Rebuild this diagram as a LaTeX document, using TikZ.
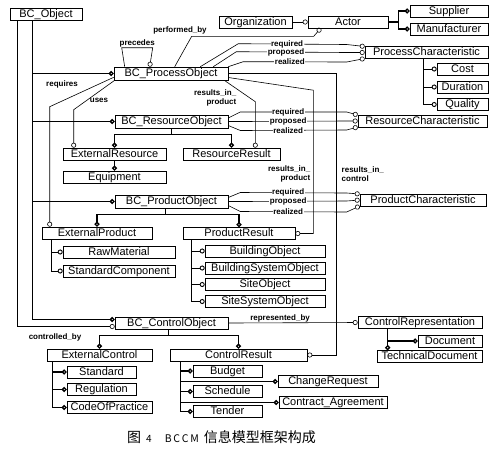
\documentclass[tikz,border=0pt]{standalone}
\usepackage{fontspec}
\setmainfont{Liberation Sans}
\newfontfamily\cjkfont{Noto Sans CJK SC}
\usetikzlibrary{arrows.meta,calc}

\begin{document}
\begin{tikzpicture}[x=1pt,y=-1pt,
    ent/.style={draw,line width=0.6pt,fill=white,inner sep=0pt,minimum height=12pt,
      text height=8pt,text depth=2pt,font=\fontsize{11}{12}\selectfont},
    rel/.style={line width=0.6pt,-{Circle[open,length=5pt,width=5pt]}},
    sub/.style={line width=1.3pt,-{Circle[open,length=5pt,width=5pt]}},
    lbl/.style={font=\bfseries\fontsize{8}{8.5}\selectfont,inner sep=0.5pt},
    onlbl/.style={lbl,fill=white}]
  \useasboundingbox (0,0) rectangle (495,451);

  % --- entities ---
  \node[ent,minimum width=72pt]  (obj)    at (46,14)     {BC\_Object};
  \node[ent,minimum width=73pt]  (org)    at (255.5,22)  {Organization};
  \node[ent,minimum width=80pt]  (actor)  at (348,22)    {Actor};
  \node[ent,minimum width=78pt]  (supp)   at (449,11)    {Supplier};
  \node[ent,minimum width=78pt]  (manu)   at (449,29)    {Manufacturer};
  \node[ent,minimum width=114pt,minimum height=13pt] (proc) at (171,73.5) {BC\_ProcessObject};
  \node[ent,minimum width=123pt] (pchar)  at (426.5,52.5) {ProcessCharacteristic};
  \node[ent,minimum width=51pt]  (cost)   at (462.5,69)  {Cost};
  \node[ent,minimum width=51pt]  (dur)    at (462.5,87)  {Duration};
  \node[ent,minimum width=51pt]  (qual)   at (462.5,104.5) {Quality};
  \node[ent,minimum width=113pt,minimum height=13pt] (res) at (171.5,121.5) {BC\_ResourceObject};
  \node[ent,minimum width=129pt] (rchar)  at (422.5,121) {ResourceCharacteristic};
  \node[ent,minimum width=103pt] (extres) at (114.5,154) {ExternalResource};
  \node[ent,minimum width=97pt]  (resres) at (231.5,154) {ResourceResult};
  \node[ent,minimum width=103pt] (equip)  at (114.5,177) {Equipment};
  \node[ent,minimum width=113pt,minimum height=13pt] (prod) at (171.5,201.5) {BC\_ProductObject};
  \node[ent,minimum width=126pt] (prchar) at (423,200)   {ProductCharacteristic};
  \node[ent,minimum width=110pt] (extprod) at (97,233)   {ExternalProduct};
  \node[ent,minimum width=112pt] (prodres) at (239,233.5) {ProductResult};
  \node[ent,minimum width=112pt] (raw)    at (119,252)   {RawMaterial};
  \node[ent,minimum width=112pt] (stdc)   at (119,271)   {StandardComponent};
  \node[ent,minimum width=120pt] (bldg)   at (265,251)   {BuildingObject};
  \node[ent,minimum width=120pt] (bsys)   at (265,268)   {BuildingSystemObject};
  \node[ent,minimum width=120pt] (site)   at (265,284.5) {SiteObject};
  \node[ent,minimum width=120pt] (ssys)   at (265,301.5) {SiteSystemObject};
  \node[ent,minimum width=113pt] (ctrl)   at (171.5,323) {BC\_ControlObject};
  \node[ent,minimum width=124pt] (crep)   at (420,322.5) {ControlRepresentation};
  \node[ent,minimum width=64pt]  (doc)    at (450,341)   {Document};
  \node[ent,minimum width=105pt] (tdoc)   at (429.5,356.5) {TechnicalDocument};
  \node[ent,minimum width=105pt] (extc)   at (99.5,355)  {ExternalControl};
  \node[ent,minimum width=137pt] (cres)   at (238.5,355) {ControlResult};
  \node[ent,minimum width=69pt]  (std)    at (101.5,372) {Standard};
  \node[ent,minimum width=69pt]  (reg)    at (101.5,389.5) {Regulation};
  \node[ent,minimum width=85pt]  (cop)    at (109.5,407.5) {CodeOfPractice};
  \node[ent,minimum width=69pt]  (bud)    at (227.5,371) {Budget};
  \node[ent,minimum width=69pt]  (sched)  at (227.5,391.5) {Schedule};
  \node[ent,minimum width=69pt]  (tend)   at (227.5,411.5) {Tender};
  \node[ent,minimum width=100pt] (chreq)  at (328,381.5) {ChangeRequest};
  \node[ent,minimum width=108pt] (contr)  at (333,402.5) {Contract\_Agreement};

  % --- BC_Object trunk ---
  \coordinate (trunk) at ($(obj.south west)+(23,0)$);
  \coordinate (ctlroot) at ($(obj.south west)+(8,0)$);
  \foreach \n in {proc,res,prod}
    \draw[sub] (trunk) |- (\n.west);
  \draw[sub] (trunk) |- ($(ctrl.west)+(0,-3.5)$);
  \draw[rel] (ctlroot) |- ($(ctrl.west)+(0,3.5)$);
  \node[lbl] (ctlbl) at (55,337) {controlled\_by};

  % --- actors ---
  \draw[rel] (org) -- (actor);
  \coordinate (abar) at ($(actor.east)+(10,0)$);
  \draw[sub,-] (actor.east) -- (abar);
  \foreach \n in {supp,manu}
    \draw[sub] (abar) |- (\n.west);
  \draw[rel] ($(proc.north west)+(61,0)$) -- ($(org.south west)+(-27,8)$)
    -- ($(actor.south west)+(6,8)$) -- ($(actor.south west)+(13,0)$);
  \node[lbl] (pblbl) at (180,30) {performed\_by};
  \draw[rel] ($(proc.north west)+(11,0)$) -- ++(-3,-19) coordinate (pc1)
    -- ++(31,0) -- ($(proc.north west)+(36,0)$);
  \node[lbl,above] (prlbl) at ($(pc1)+(15.5,0)$) {precedes};

  % --- characteristics: required / proposed / realized ---
  \draw[rel] ($(proc.north east)+(-28,0)$) -- ++(38,-23)
    -- node[onlbl,pos=0.45] {required} ($(pchar.west)+(-18,-8)$) -- ($(pchar.west)+(0,-6)$);
  \draw[rel] ($(proc.north east)+(-15,0)$) -- ++(23,-15)
    -- node[onlbl,pos=0.45] {proposed} ($(pchar.west)+(-18,0)$) -- (pchar.west);
  \draw[rel] (proc.north east) -- ++(15,-5)
    -- node[onlbl,pos=0.45] {realized} ($(pchar.west)+(-18,9.5)$) -- ($(pchar.west)+(0,6)$);

  \draw[rel] ($(res.east)+(0,-3.5)$) -- ++(12,-6)
    -- node[onlbl,pos=0.45] {required} ($(rchar.west)+(-11,-9)$) -- ($(rchar.west)+(0,-6)$);
  \draw[rel] (res.east) -- ++(12,0)
    -- node[onlbl,pos=0.45] {proposed} ($(rchar.west)+(-11,0)$) -- (rchar.west);
  \draw[rel] ($(res.east)+(0,4)$) -- ++(12,5)
    -- node[onlbl,pos=0.45] {realized} ($(rchar.west)+(-11,9)$) -- ($(rchar.west)+(0,6)$);

  \draw[rel] ($(prod.east)+(0,-4)$) -- ++(12,-5)
    -- node[onlbl,pos=0.45] {required} ($(prchar.west)+(-13,-7)$) -- ($(prchar.west)+(0,-6)$);
  \draw[rel] (prod.east) -- ++(12,0)
    -- node[onlbl,pos=0.45] {proposed} ($(prchar.west)+(-13,1)$) -- (prchar.west);
  \draw[rel] ($(prod.east)+(0,4)$) -- ++(12,6)
    -- node[onlbl,pos=0.45] {realized} ($(prchar.west)+(-13,12)$) -- ($(prchar.west)+(0,6)$);

  \coordinate (pcbar) at ($(pchar.south west)+(59,0)$);
  \foreach \n in {cost,dur,qual}
    \draw[sub,line width=0.9pt] (pcbar) |- (\n.west);

  % --- requires, uses, results_in ---
  \draw[rel] ($(proc.south west)+(0,-3)$) -- ($(extprod.north west)+(8,-120)$)
    -- ($(extprod.north west)+(8,0)$);
  \node[lbl] (rqlbl) at (62,84) {requires};
  \draw[rel] ($(proc.south west)+(1,0)$) -- ($(extres.north west)+(11,-38)$)
    -- ($(extres.north west)+(11,0)$);
  \node[lbl] (uslbl) at (99,100) {uses};
  \draw[rel] ($(proc.south east)+(-4,0)$) -- ($(resres.north east)+(-25,-46)$)
    -- ($(resres.north east)+(-25,0)$);
  \node[lbl,align=right,anchor=east] (rp1lbl) at (237,98) {results\_in\_\\product};
  \draw[rel] ($(proc.east)+(0,4)$) -- ($(prodres.north east)+(18,-137)$) |- (prodres.east);
  \node[lbl,align=right,anchor=east] (rp2lbl) at (311,174) {results\_in\_\\product};
  \draw[rel] (proc.east) -| ($(cres.east)+(29,0)$) -- (cres.east);
  \node[lbl,align=left,anchor=west] (rclbl) at (341,174) {results\_in\_\\control};
  \draw[rel] (ctrl.east) -- node[lbl,above,pos=0.4] {represented\_by} (crep.west);

  % --- subtype trees ---
  \draw[sub,-] (res.south) -- ++(0,6) coordinate (rj);
  \foreach \n in {extres,resres}
    \draw[sub] (rj) -| (\n.north);
  \draw[sub] (extres.south) -- (equip.north);

  \draw[sub,-] ($(prod.south)+(-6,0)$) -- ++(0,6) coordinate (pj);
  \foreach \n in {extprod,prodres}
    \draw[sub] (pj) -| (\n.north);
  \coordinate (epbar) at ($(extprod.south west)+(10,0)$);
  \foreach \n in {raw,stdc}
    \draw[sub,line width=0.9pt] (epbar) |- (\n.west);
  \coordinate (prbar) at ($(prodres.south west)+(9,0)$);
  \foreach \n in {bldg,bsys,site,ssys}
    \draw[sub,line width=0.9pt] (prbar) |- (\n.west);

  \draw[sub,-] ($(ctrl.south)+(-3,0)$) -- ++(0,6) coordinate (cj);
  \foreach \n in {extc,cres}
    \draw[sub] (cj) -| (\n.north);
  \coordinate (ecbar) at ($(extc.south west)+(6,0)$);
  \foreach \n in {std,reg,cop}
    \draw[sub] (ecbar) |- (\n.west);
  \coordinate (crbar) at ($(cres.south west)+(11,0)$);
  \foreach \n in {bud,sched,tend,chreq,contr}
    \draw[sub] (crbar) |- (\n.west);
  \coordinate (cpbar) at ($(crep.south west)+(30,0)$);
  \draw[sub] (cpbar) -- (cpbar |- tdoc.north);
  \draw[sub] (cpbar) |- (doc.west);

  % caption
  \node[anchor=west,inner sep=0pt,font=\cjkfont\fontsize{14}{16}\selectfont] (caption) at (127,437)
    {图\hspace{5pt}{\fontsize{10}{12}\selectfont 4}\hspace{13pt}{\fontsize{10.5}{12}\selectfont B\,C\,C\,M}\hspace{5pt}信息模型框架构成};
\end{tikzpicture}
\end{document}
